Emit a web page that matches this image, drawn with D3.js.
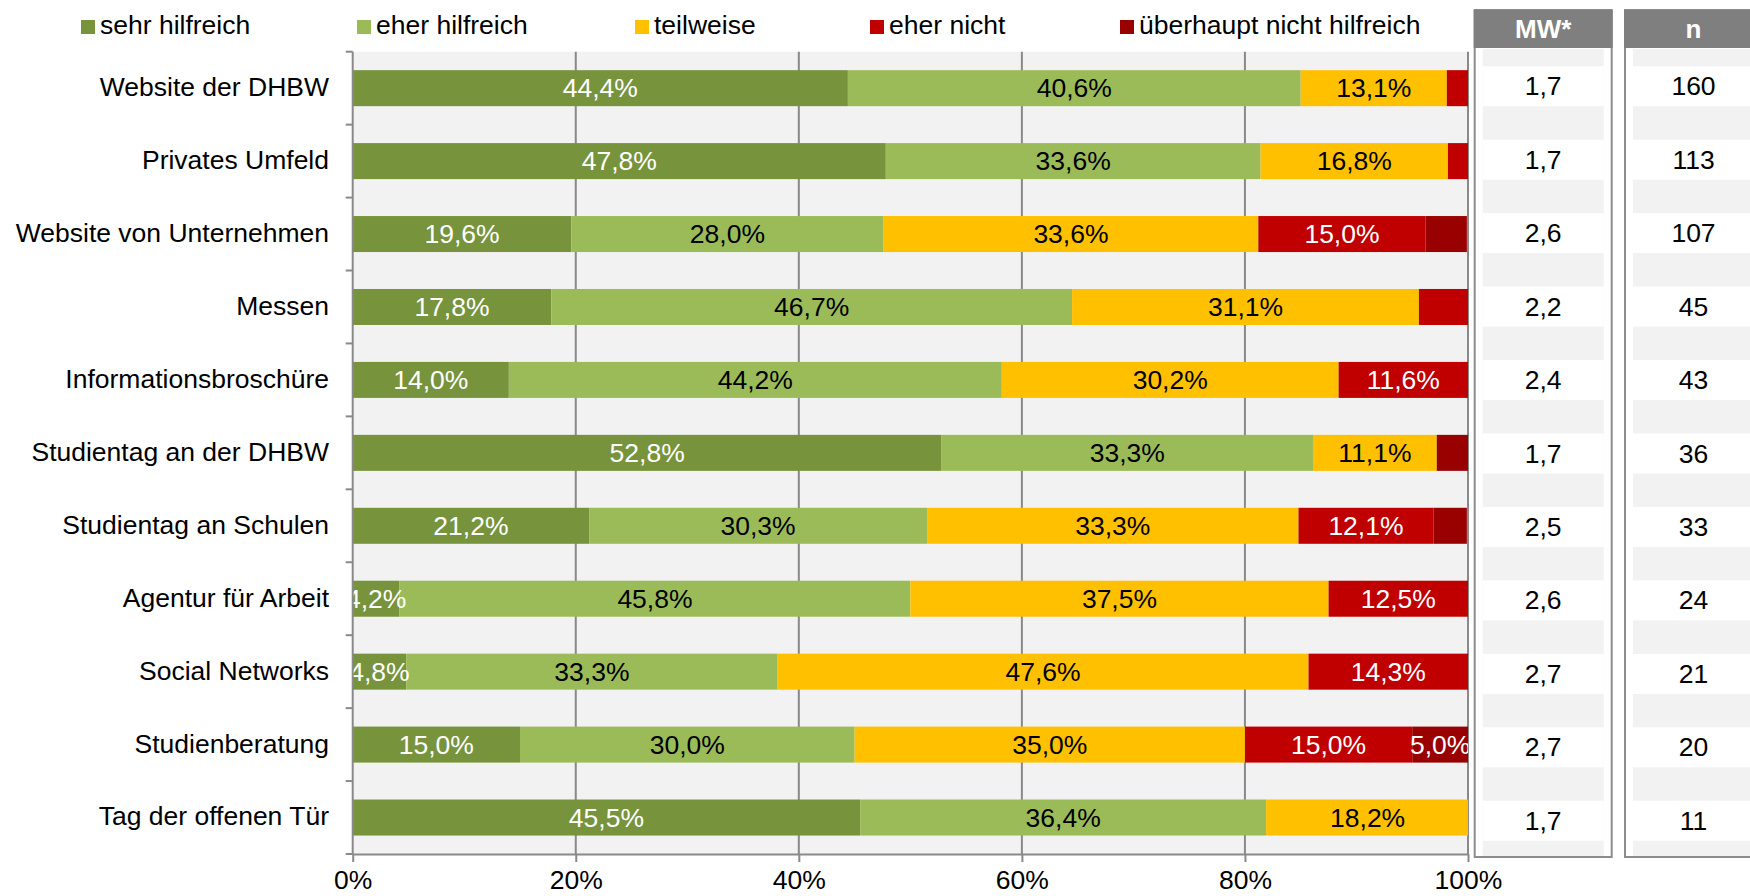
<!DOCTYPE html>
<html>
<head>
<meta charset="utf-8">
<script src="https://cdn.jsdelivr.net/npm/d3@7"></script>
<style>
  body { margin: 0; background: #fff; }
  svg text { font-family: Arial, "Liberation Sans", sans-serif; }
</style>
</head>
<body>
<svg class="chart"></svg>
<script>
// data
var categories = ["Website der DHBW", "Privates Umfeld", "Website von Unternehmen", "Messen",
    "Informationsbroschüre", "Studientag an der DHBW", "Studientag an Schulen", "Agentur für Arbeit",
    "Social Networks", "Studienberatung", "Tag der offenen Tür"];
var seriesNames = ["sehr hilfreich", "eher hilfreich", "teilweise", "eher nicht", "überhaupt nicht hilfreich"];
var sehrHilfreich = [44.4, 47.8, 19.6, 17.8, 14.0, 52.8, 21.2, 4.2, 4.8, 15.0, 45.5];
var eherHilfreich = [40.6, 33.6, 28.0, 46.7, 44.2, 33.3, 30.3, 45.8, 33.3, 30.0, 36.4];
var teilweise = [13.1, 16.8, 33.6, 31.1, 30.2, 11.1, 33.3, 37.5, 47.6, 35.0, 18.2];
var eherNicht = [1.9, 1.8, 15.0, 4.4, 11.6, 0, 12.1, 12.5, 14.3, 15.0, 0];
var ueberhauptNicht = [0, 0, 3.7, 0, 0, 2.8, 3.0, 0, 0, 5.0, 0];
var mwValues = [1.7, 1.7, 2.6, 2.2, 2.4, 1.7, 2.5, 2.6, 2.7, 2.7, 1.7];
var nValues = [160, 113, 107, 45, 43, 36, 33, 24, 21, 20, 11];
var xTicks = [0, 20, 40, 60, 80, 100];

(function show() {
    'use strict';
    var width = 1750, height = 896;
    var colors = ["#77933c", "#9bbb59", "#ffc000", "#c00000", "#990000"];
    var labelColors = ["#fff", "#000", "#000", "#fff", "#fff"];
    var axisColor = "#898989";
    var fs = 26.5;

    var svg = d3.select(".chart").attr("width", width).attr("height", height);

    var series = [sehrHilfreich, eherHilfreich, teilweise, eherNicht, ueberhauptNicht];
    var rows = categories.map(function(c, i) {
        var r = {cat: c};
        seriesNames.forEach(function(s, k) { r[s] = series[k][i]; });
        return r;
    });
    var stacked = d3.stack().keys(seriesNames)(rows);

    var x = d3.scaleLinear().domain([0, 100]).range([352.7, 1468]);
    var y = d3.scaleBand().domain(categories).range([51.7, 854]);
    var barH = 36;
    var comma = function(v) { return v.toFixed(1).replace(".", ","); };

    // plot background
    svg.append("rect")
        .attr("x", x(0)).attr("y", y.range()[0])
        .attr("width", x(100) - x(0)).attr("height", y.range()[1] - y.range()[0])
        .attr("fill", "#f2f2f2");

    // gridlines
    svg.append("g").selectAll("line").data(xTicks.slice(1)).enter()
        .append("line")
        .attr("x1", x).attr("x2", x)
        .attr("y1", y.range()[0]).attr("y2", y.range()[1])
        .attr("stroke", axisColor).attr("stroke-width", 2);

    svg.append("clipPath").attr("id", "plotclip")
        .append("rect")
        .attr("x", x(0)).attr("y", 0)
        .attr("width", x(100) - x(0)).attr("height", height);

    var plot = svg.append("g").attr("clip-path", "url(#plotclip)");

    // bars
    plot.selectAll("g.layer").data(stacked).enter()
        .append("g").attr("class", "layer")
        .attr("fill", function(d, k) { return colors[k]; })
        .selectAll("rect").data(function(d) { return d; }).enter()
        .append("rect")
        .attr("x", function(d) { return x(d[0]); })
        .attr("y", function(d) { return y(d.data.cat) + (y.bandwidth() - barH) / 2; })
        .attr("width", function(d) { return Math.max(0, x(d[1]) - x(d[0])); })
        .attr("height", barH);

    // value labels (small "eher nicht"/"überhaupt" parts carry no label)
    plot.selectAll("g.labels").data(stacked).enter()
        .append("g").attr("class", "labels")
        .attr("fill", function(d, k) { return labelColors[k]; })
        .each(function(layer, k) {
            d3.select(this).selectAll("text")
                .data(layer.filter(function(d) {
                    var v = d[1] - d[0];
                    return v > 0 && (k < 3 || v >= 5);
                }))
                .enter().append("text")
                .attr("x", function(d) { return (x(d[0]) + x(d[1])) / 2; })
                .attr("y", function(d) { return y(d.data.cat) + y.bandwidth() / 2; })
                .attr("dy", "0.35em")
                .attr("text-anchor", "middle")
                .attr("font-size", fs)
                .text(function(d) { return comma(d.data[layer.key]) + "%"; });
        });

    // left axis line and boundary ticks
    var bounds = categories.map(function(c) { return y(c); }).concat([y.range()[1]]);
    svg.append("line")
        .attr("x1", x(0)).attr("x2", x(0))
        .attr("y1", y.range()[0]).attr("y2", y.range()[1])
        .attr("stroke", axisColor).attr("stroke-width", 2);
    svg.append("g").selectAll("line").data(bounds).enter()
        .append("line")
        .attr("x1", x(0) - 7).attr("x2", x(0))
        .attr("y1", function(d) { return d; }).attr("y2", function(d) { return d; })
        .attr("stroke", axisColor).attr("stroke-width", 2);

    // category labels
    svg.append("g").selectAll("text").data(categories).enter()
        .append("text")
        .attr("x", 329)
        .attr("y", function(d) { return y(d) + y.bandwidth() / 2; })
        .attr("dy", "0.3em")
        .attr("text-anchor", "end")
        .attr("font-size", fs)
        .attr("fill", "#000")
        .text(function(d) { return d; });

    // bottom axis
    var xAxis = svg.append("g")
        .attr("transform", "translate(0," + y.range()[1] + ")")
        .call(d3.axisBottom(x).tickValues(xTicks).tickSize(8).tickSizeOuter(0)
            .tickFormat(function(d) { return d + "%"; }));
    xAxis.select(".domain").attr("stroke", axisColor).attr("stroke-width", 2);
    xAxis.selectAll(".tick line").attr("stroke", axisColor).attr("stroke-width", 2);
    xAxis.selectAll(".tick text")
        .attr("font-size", fs).attr("fill", "#000")
        .attr("y", 16)
        .attr("font-family", null);

    // legend
    var legendX = [81, 357, 635, 870, 1120];
    var legend = svg.append("g").selectAll("g").data(seriesNames).enter()
        .append("g")
        .attr("transform", function(d, k) { return "translate(" + legendX[k] + ",20)"; });
    legend.append("rect")
        .attr("width", 14).attr("height", 14)
        .attr("fill", function(d, k) { return colors[k]; });
    legend.append("text")
        .attr("x", 19).attr("y", 5).attr("dy", "0.35em")
        .attr("font-size", fs).attr("fill", "#000")
        .text(function(d) { return d; });

    // side tables (MW*, n)
    var ty = d3.scaleBand().domain(categories).range([49, 857]);
    var tables = [
        {title: "MW*", left: 1474.7, values: mwValues.map(function(v) { return v.toFixed(1).replace(".", ","); })},
        {title: "n", left: 1625, values: nValues.map(String)}
    ];
    var tw = 137;
    tables.forEach(function(t) {
        var g = svg.append("g");
        g.append("rect")
            .attr("x", t.left + 8).attr("y", ty.range()[0])
            .attr("width", tw - 16).attr("height", ty.range()[1] - ty.range()[0])
            .attr("fill", "#f2f2f2");
        g.selectAll("rect.cell").data(categories).enter()
            .append("rect").attr("class", "cell")
            .attr("x", t.left + 8)
            .attr("y", function(d) { return ty(d) + ty.bandwidth() / 2 - 19.5; })
            .attr("width", tw - 16).attr("height", 40)
            .attr("fill", "#fff");
        g.append("rect")
            .attr("x", t.left).attr("y", 10)
            .attr("width", tw).attr("height", 847)
            .attr("fill", "none").attr("stroke", "#8c8c8c").attr("stroke-width", 2);
        g.append("rect")
            .attr("x", t.left - 1).attr("y", 10)
            .attr("width", tw + 2).attr("height", 38)
            .attr("fill", "#7f7f7f");
        g.append("text")
            .attr("x", t.left + tw / 2).attr("y", 29).attr("dy", "0.36em")
            .attr("text-anchor", "middle")
            .attr("font-size", 26).attr("font-weight", "bold").attr("fill", "#fff")
            .text(t.title);
        g.selectAll("text.val").data(t.values).enter()
            .append("text").attr("class", "val")
            .attr("x", t.left + tw / 2)
            .attr("y", function(d, i) { return ty(categories[i]) + ty.bandwidth() / 2; })
            .attr("dy", "0.36em")
            .attr("text-anchor", "middle")
            .attr("font-size", fs).attr("fill", "#000")
            .text(function(d) { return d; });
    });
})();
</script>
</body>
</html>
